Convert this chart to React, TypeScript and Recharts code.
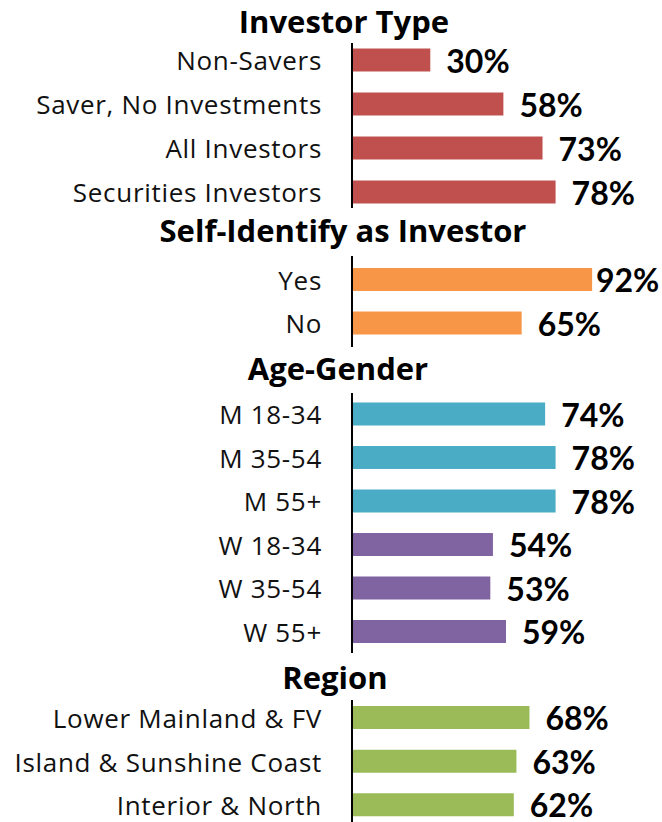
import React from 'react';
import { BarChart, Bar, XAxis, YAxis, Cell, LabelList } from 'recharts';

// ---------- data ----------
const sectionTitles = ['Investor Type', 'Self-Identify as Investor', 'Age-Gender', 'Region'];

const investorTypeCategories = ['Non-Savers', 'Saver, No Investments', 'All Investors', 'Securities Investors'];
const investorTypeValues = [30, 58, 73, 78];

const selfIdentifyCategories = ['Yes', 'No'];
const selfIdentifyValues = [92, 65];

const ageGenderCategories = ['M 18-34', 'M 35-54', 'M 55+', 'W 18-34', 'W 35-54', 'W 55+'];
const ageGenderValues = [74, 78, 78, 54, 53, 59];
const ageGenderGroups = ['Men', 'Men', 'Men', 'Women', 'Women', 'Women'];

const regionCategories = ['Lower Mainland & FV', 'Island & Sunshine Coast', 'Interior & North'];
const regionValues = [68, 63, 62];

// ---------- styles ----------
const LABEL_FONT = '"Open Sans", Lato, sans-serif';
const VALUE_FONT = 'Lato, "Open Sans", sans-serif';
const W = 662;
const AXIS_X = 352;
const RIGHT_MARGIN = 49;
const VPAD = 24;
const groupColors: Record<string, string> = { Men: '#4BACC6', Women: '#8064A2' };

type Row = { name: string; value: number; color: string };

const build = (cats: string[], vals: number[], colorOf: (i: number) => string): Row[] =>
  cats.map((c, i) => ({ name: c, value: vals[i], color: colorOf(i) }));

const sections = [
  { title: sectionTitles[0], titleX: 344, titleY: 22, top: 43, height: 165, pad: -5.5,
    rows: build(investorTypeCategories, investorTypeValues, () => '#C0504D') },
  { title: sectionTitles[1], titleX: 343, titleY: 231, top: 256, height: 91, pad: 2,
    rows: build(selfIdentifyCategories, selfIdentifyValues, () => '#F79646') },
  { title: sectionTitles[2], titleX: 338, titleY: 369, top: 393, height: 260, pad: -0.5,
    rows: build(ageGenderCategories, ageGenderValues, (i) => groupColors[ageGenderGroups[i]]) },
  { title: sectionTitles[3], titleX: 335, titleY: 678, top: 700, height: 123, pad: -4,
    rows: build(regionCategories, regionValues, () => '#9BBB59') },
];

const CategoryTick = (props: any) => {
  const { x, y, payload } = props;
  return (
    <text x={x} y={y} textAnchor="end" dominantBaseline="central" fontFamily={LABEL_FONT} fontSize={26}
      fill="#111" letterSpacing={0.7} style={{ fontVariantLigatures: 'none' }}>
      {payload.value}
    </text>
  );
};

const ValueLabel = (props: any) => {
  const { x, y, width, height, value } = props;
  const lx = Math.min(Number(x) + Number(width) + 16, W - 66);
  return (
    <text x={lx} y={Number(y) + Number(height) / 2} textAnchor="start" dominantBaseline="central"
      fontFamily={VALUE_FONT} fontWeight={700} fontSize={32} fill="#000">
      {`${value}%`}
    </text>
  );
};

const Section = ({ s }: { s: (typeof sections)[number] }) => (
  <>
    <div style={{ position: 'absolute', left: s.titleX - 300, width: 600, top: s.titleY - 22, height: 42, lineHeight: '42px',
      textAlign: 'center', fontFamily: LABEL_FONT, fontWeight: 700, fontSize: 31, color: '#000',
      whiteSpace: 'nowrap' }}>
      {s.title}
    </div>
    <div style={{ position: 'absolute', left: 0, top: s.top - VPAD }}>
      <BarChart layout="vertical" width={W} height={s.height + 2 * VPAD} data={s.rows}
        margin={{ top: VPAD, right: RIGHT_MARGIN, bottom: VPAD, left: 0 }}>
        <XAxis type="number" domain={[0, 100]} hide />
        <YAxis type="category" dataKey="name" width={AXIS_X} interval={0}
          padding={{ top: s.pad, bottom: s.pad }}
          axisLine={{ stroke: '#000', strokeWidth: 2 }} tickLine={false} tickSize={0} tickMargin={30}
          tick={<CategoryTick />} />
        <Bar dataKey="value" barSize={23} isAnimationActive={false}>
          {s.rows.map((r) => <Cell key={r.name} fill={r.color} />)}
          <LabelList dataKey="value" content={<ValueLabel />} />
        </Bar>
      </BarChart>
    </div>
  </>
);

export default function App() {
  return (
    <div style={{ position: 'absolute', left: 0, top: 0, width: W, height: 822, overflow: 'hidden', background: '#fff' }}>
      {sections.map((s) => <Section key={s.title} s={s} />)}
    </div>
  );
}
